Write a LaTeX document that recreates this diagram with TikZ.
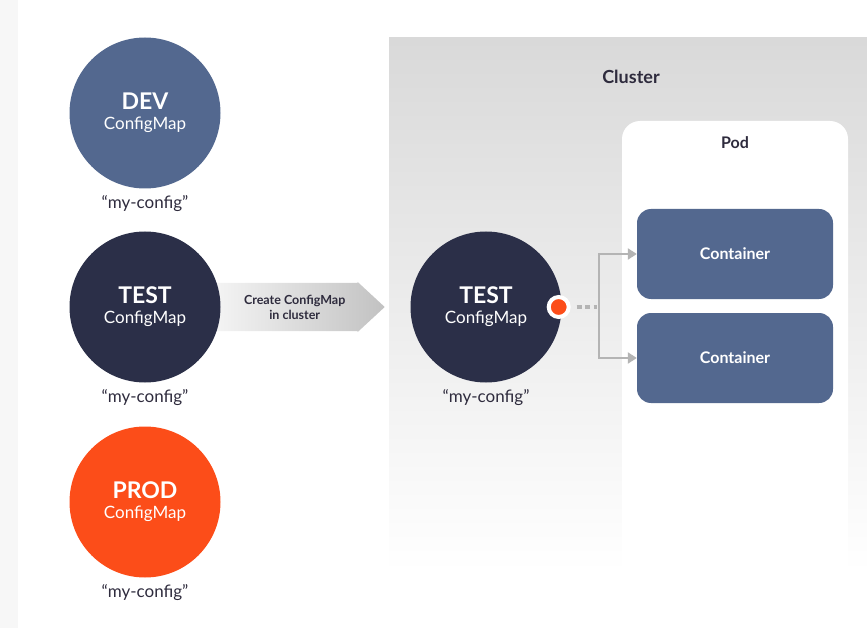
\documentclass[tikz,border=0pt]{standalone}
\usepackage{fontspec}
\setmainfont{Lato}
\usetikzlibrary{positioning,arrows.meta,backgrounds}
\definecolor{devblue}{HTML}{53688F}
\definecolor{testnavy}{HTML}{2B2F48}
\definecolor{prodred}{HTML}{FC4D19}
\definecolor{ink}{HTML}{2E2B3D}
\definecolor{linkgray}{HTML}{B4B4B4}
\definecolor{clustergray}{HTML}{D9D9D9}
\begin{document}
\begin{tikzpicture}[x=1pt,y=-1pt,>={Triangle[length=9pt,width=11pt]},
  cmap/.style={circle,minimum size=151pt,inner sep=0pt,text=white,align=center,font=\fontsize{17}{20}\selectfont},
  cname/.style={below=3pt of #1,text=ink,font=\fontsize{17}{20}\selectfont},
  box/.style={rounded corners=14pt,fill=devblue,minimum width=196pt,minimum height=90pt,text=white,font=\bfseries\fontsize{16}{19}\selectfont},
  link/.style={linkgray,line width=2.5pt}]
\useasboundingbox (0,0) rectangle (867,628);
\fill[black!3] (0,0) rectangle (18,628);
% cluster and pod
\shade[top color=clustergray,bottom color=white] (389,38) rectangle (867,572);
\fill[white,rounded corners=18pt] (622,121) rectangle (848,600);
\node[text=ink,font=\bfseries\fontsize{18}{20}\selectfont] (cluster) at (631,77) {Cluster};
\node[text=ink,font=\bfseries\fontsize{16}{18}\selectfont] (pod) at (735,143) {Pod};
% configmaps
\node[cmap,fill=devblue] (dev) at (145,113) {{\bfseries\fontsize{23}{20}\selectfont DEV}\\ConfigMap};
\node[cmap,fill=testnavy] (test) at (145,307) {{\bfseries\fontsize{23}{20}\selectfont TEST}\\ConfigMap};
\node[cmap,fill=prodred] (prod) at (145,502) {{\bfseries\fontsize{23}{20}\selectfont PROD}\\ConfigMap};
\node[cmap,fill=testnavy] (ctest) at (486,307) {{\bfseries\fontsize{23}{20}\selectfont TEST}\\ConfigMap};
\node[cname=dev] (devname) {``my-config''};
\node[cname=test] (testname) {``my-config''};
\node[cname=prod] (prodname) {``my-config''};
\node[cname=ctest] (ctestname) {``my-config''};
% containers
\node[box] (c1) at (735,254) {Container};
\node[box] (c2) at (735,358) {Container};
% create arrow
\begin{pgfonlayer}{background}
\shade[left color=black!4,right color=black!24]
  ([xshift=-8pt,yshift=24pt]test.east) -- ++(145,0) -- ++(0,-1) -- ++(27,25)
  -- ++(-27,25) -- ++(0,-1) -- ++(-145,0) -- cycle;
\end{pgfonlayer}
\node[text=ink,align=center,font=\bfseries\fontsize{12.5}{15}\selectfont] (create) at ([xshift=74pt]test.east) {Create ConfigMap\\in cluster};
% mount
\node[circle,fill=prodred,draw=white,line width=4pt,minimum size=20pt,inner sep=0pt] (dot) at ([xshift=-3pt]ctest.east) {};
\coordinate (split) at (599,307);
\draw[link,line width=4pt,dash pattern=on 5pt off 3.5pt,shorten <=6pt,shorten >=2pt] (dot.east) -- (split);
\draw[link,->] (split) |- (c1.west);
\draw[link,->] (split) |- (c2.west);
\end{tikzpicture}
\end{document}
